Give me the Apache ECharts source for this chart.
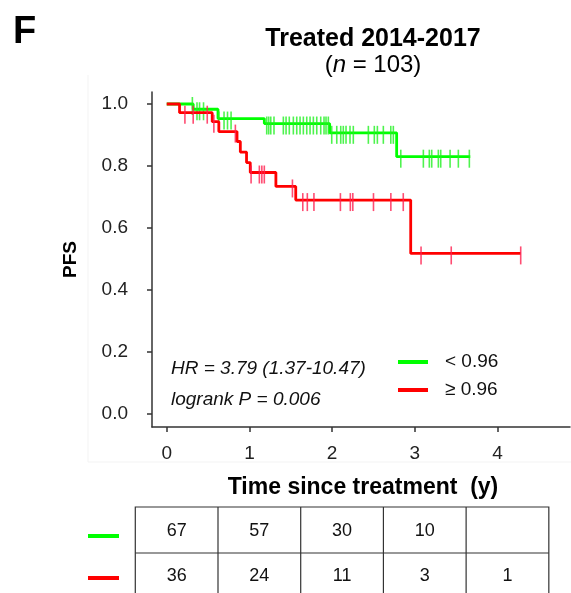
<!DOCTYPE html>
<html>
<head>
<meta charset="utf-8">
<script src="https://cdn.jsdelivr.net/npm/echarts@6/dist/echarts.min.js"></script>
<style>
html,body{margin:0;padding:0;background:#fff;}
#c{width:571px;height:593px;}
</style>
</head>
<body>
<div id="c"></div>
<script>
// ---- data ----
const xTicks = [0, 1, 2, 3, 4];
const yTicks = [0, 0.2, 0.4, 0.6, 0.8, 1.0];

const greenName = '< 0.96';
const greenTimes = [0, 0.32, 0.62, 1.18, 1.97, 2.78, 3.67];
const greenSurv  = [1, 0.983, 0.953, 0.937, 0.907, 0.830, 0.830];
const greenCensor = [0.31, 0.366, 0.397, 0.445, 0.63, 0.693, 0.735, 0.778,
  1.209, 1.233, 1.258, 1.297, 1.41, 1.443, 1.482, 1.531, 1.572, 1.612, 1.652,
  1.693, 1.733, 1.773, 1.814, 1.862, 1.902, 1.926, 1.954,
  1.995, 2.056, 2.104, 2.135, 2.168, 2.216, 2.256, 2.438, 2.51, 2.547, 2.619,
  2.709, 2.74, 2.83,
  3.103, 3.175, 3.204, 3.284, 3.313, 3.426, 3.526, 3.659];

const redName = '≥ 0.96';
const redTimes = [0, 0.155, 0.55, 0.63, 0.85, 0.89, 0.965, 1.01, 1.32, 1.56, 2.95, 4.28];
const redSurv  = [1, 0.972, 0.943, 0.911, 0.879, 0.845, 0.811, 0.779, 0.734, 0.690, 0.518, 0.518];
const redCensor = [0.22, 0.32, 0.49, 0.57, 0.83, 1.02, 1.12, 1.15, 1.18, 1.52, 1.645,
  1.70, 1.78, 2.10, 2.22, 2.25, 2.50, 2.71, 2.86, 3.075, 3.44, 4.28];

const tableGreen = ['67', '57', '30', '10', ''];
const tableRed   = ['36', '24', '11', '3', '1'];

const titleText = 'Treated 2014-2017';
const hrText = 'HR = 3.79 (1.37-10.47)';
const pText = 'logrank P = 0.006';

// ---- styles ----
const GREEN = '#00ff00', RED = '#ff0000';
const GREEN_TICK = '#22f022', RED_TICK = '#ff1f4f';
const FONT = '"Liberation Sans", Arial, sans-serif';

function levelAt(times, surv, t) {
  let v = surv[0];
  for (let i = 0; i < times.length; i++) if (times[i] <= t) v = surv[i];
  return v;
}
const stepData = (times, surv) => times.map((t, i) => [t, surv[i]]);
const censorData = (c, times, surv) => c.map(t => [t, levelAt(times, surv, t)]);

const chart = echarts.init(document.getElementById('c'), null, {renderer: 'canvas'});

const option = {
  animation: false,
  backgroundColor: '#fff',
  title: {
    text: titleText,
    subtext: '({i|n} = 103)',
    left: 368, top: 22, textAlign: 'center', itemGap: 1,
    textStyle: {fontFamily: FONT, fontSize: 25, fontWeight: 'bold', color: '#000'},
    subtextStyle: {fontFamily: FONT, fontSize: 24, color: '#000',
      rich: {i: {fontFamily: FONT, fontSize: 24, fontStyle: 'italic', color: '#000'}}}
  },
  grid: {left: 152, top: 92, width: 418, height: 335, containLabel: false},
  xAxis: {
    type: 'value', min: -0.178, max: 4.876,
    axisLine: {show: true, onZero: false, lineStyle: {color: '#333', width: 1.5}},
    axisTick: {show: true, customValues: xTicks, length: 5, lineStyle: {color: '#333', width: 1.5}},
    axisLabel: {customValues: xTicks, margin: 17, fontFamily: FONT, fontSize: 19, color: '#222',
      formatter: v => String(Math.round(v))},
    splitLine: {show: false}
  },
  yAxis: {
    type: 'value', min: -0.042, max: 1.0387,
    axisLine: {show: true, onZero: false, lineStyle: {color: '#333', width: 1.5}},
    axisTick: {show: true, customValues: yTicks, length: 5, lineStyle: {color: '#333', width: 1.5}},
    axisLabel: {customValues: yTicks, margin: 24, fontFamily: FONT, fontSize: 19, color: '#222',
      formatter: v => v.toFixed(1)},
    splitLine: {show: false},
    name: 'PFS', nameLocation: 'middle', nameGap: 72, nameRotate: 90,
    nameTextStyle: {fontFamily: FONT, fontSize: 19, fontWeight: 'bold', color: '#000'}
  },
  series: [
    {name: greenName, type: 'line', step: 'end', data: stepData(greenTimes, greenSurv),
      showSymbol: false, lineStyle: {color: GREEN, width: 2.8}, z: 2},
    {name: greenName + ' censor', type: 'scatter', data: censorData(greenCensor, greenTimes, greenSurv),
      symbol: 'rect', symbolSize: [1.6, 18], symbolOffset: [0, 2],
      itemStyle: {color: GREEN_TICK}, z: 2},
    {name: redName, type: 'line', step: 'end', data: stepData(redTimes, redSurv),
      showSymbol: false, lineStyle: {color: RED, width: 2.8}, z: 3},
    {name: redName + ' censor', type: 'scatter', data: censorData(redCensor, redTimes, redSurv),
      symbol: 'rect', symbolSize: [1.6, 18], symbolOffset: [0, 2],
      itemStyle: {color: RED_TICK}, z: 3}
  ]
};
chart.setOption(option);

// ---- overlay: panel letter, axis title, annotation, legend, risk table ----
const px = t => chart.convertToPixel({xAxisIndex: 0}, t);
const g = [];
g.push({type: 'text', style: {text: 'F', x: 13, y: 14, font: 'bold 38px ' + FONT, fill: '#000'}});
// faint panel border
g.push({type: 'line', shape: {x1: 88, y1: 75, x2: 88, y2: 462}, style: {stroke: '#f3f3f3', lineWidth: 1}, silent: true});
g.push({type: 'line', shape: {x1: 88, y1: 462, x2: 571, y2: 462}, style: {stroke: '#f3f3f3', lineWidth: 1}, silent: true});
// x-axis title
g.push({type: 'text', style: {text: 'Time since treatment  (y)', x: 363, y: 488, align: 'center', verticalAlign: 'middle',
  textAlign: 'center', textVerticalAlign: 'middle', font: 'bold 23px ' + FONT, fill: '#000'}});
// annotation
g.push({type: 'text', style: {text: hrText, x: 171, y: 369, verticalAlign: 'middle', textVerticalAlign: 'middle',
  font: 'italic 19px ' + FONT, fill: '#111'}});
g.push({type: 'text', style: {text: pText, x: 171, y: 400, verticalAlign: 'middle', textVerticalAlign: 'middle',
  font: 'italic 19px ' + FONT, fill: '#111'}});
// legend
[[greenName, GREEN, 362], [redName, RED, 390]].forEach(([n, c, y]) => {
  g.push({type: 'line', shape: {x1: 398, y1: y, x2: 428, y2: y}, style: {stroke: c, lineWidth: 4}});
  g.push({type: 'text', style: {text: n, x: 445, y: y, verticalAlign: 'middle', textVerticalAlign: 'middle',
    font: '19px ' + FONT, fill: '#111'}});
});
// risk table
const colEdges = [0, 1, 2, 3, 4, 5].map(k => px(k - 0.38));
const tTop = 507, tMid = 553, tBot = 600;
g.push({type: 'rect', shape: {x: colEdges[0], y: tTop, width: colEdges[5] - colEdges[0], height: tBot - tTop},
  style: {fill: 'none', stroke: '#333', lineWidth: 1.2}});
g.push({type: 'line', shape: {x1: colEdges[0], y1: tMid, x2: colEdges[5], y2: tMid}, style: {stroke: '#333', lineWidth: 1.2}});
for (let k = 1; k < 5; k++) {
  g.push({type: 'line', shape: {x1: colEdges[k], y1: tTop, x2: colEdges[k], y2: tBot}, style: {stroke: '#333', lineWidth: 1.2}});
}
[[tableGreen, 531, GREEN, 536], [tableRed, 576, RED, 578]].forEach(([row, y, c, ly]) => {
  row.forEach((v, k) => {
    g.push({type: 'text', style: {text: v, x: (colEdges[k] + colEdges[k + 1]) / 2, y: y,
      align: 'center', verticalAlign: 'middle', textAlign: 'center', textVerticalAlign: 'middle',
      font: '18px ' + FONT, fill: '#111'}});
  });
  g.push({type: 'line', shape: {x1: 88, y1: ly, x2: 119, y2: ly}, style: {stroke: c, lineWidth: 4}});
});
chart.setOption({graphic: {elements: g}});
</script>
</body>
</html>
